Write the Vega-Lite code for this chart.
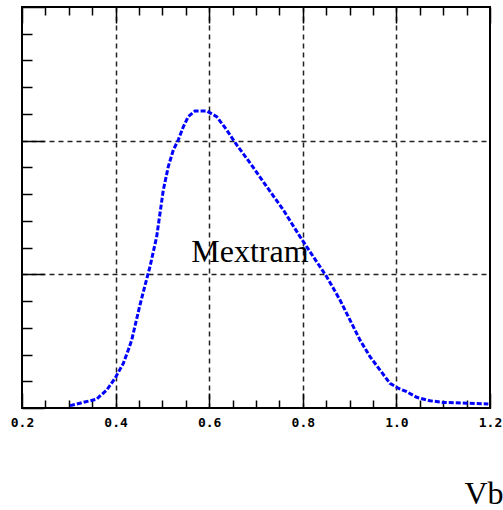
{
  "$schema": "https://vega.github.io/schema/vega-lite/v6.json",
  "width": 468,
  "height": 401,
  "autosize": {"type": "none"},
  "padding": {"left": 22, "top": 7, "right": 13, "bottom": 102},
  "background": "white",
  "config": {"view": {"stroke": "black", "strokeWidth": 2}},
  "datasets": {
    "curve": [
      {"vb": 0.3026, "val": 0.009}, {"vb": 0.3239, "val": 0.018}, {"vb": 0.3453, "val": 0.027},
      {"vb": 0.3596, "val": 0.033}, {"vb": 0.3667, "val": 0.045}, {"vb": 0.381, "val": 0.067},
      {"vb": 0.3987, "val": 0.111}, {"vb": 0.4165, "val": 0.167}, {"vb": 0.4271, "val": 0.217},
      {"vb": 0.4344, "val": 0.254}, {"vb": 0.452, "val": 0.385}, {"vb": 0.4692, "val": 0.501},
      {"vb": 0.4735, "val": 0.529}, {"vb": 0.4878, "val": 0.641}, {"vb": 0.5019, "val": 0.815},
      {"vb": 0.5126, "val": 0.903}, {"vb": 0.5233, "val": 0.965}, {"vb": 0.534, "val": 1.003},
      {"vb": 0.5447, "val": 1.052}, {"vb": 0.5553, "val": 1.09}, {"vb": 0.5697, "val": 1.111},
      {"vb": 0.5947, "val": 1.111}, {"vb": 0.616, "val": 1.09}, {"vb": 0.6374, "val": 1.04},
      {"vb": 0.6588, "val": 0.984}, {"vb": 0.6872, "val": 0.917}, {"vb": 0.7229, "val": 0.828},
      {"vb": 0.7583, "val": 0.741}, {"vb": 0.794, "val": 0.641}, {"vb": 0.8224, "val": 0.566},
      {"vb": 0.8511, "val": 0.491}, {"vb": 0.8795, "val": 0.404}, {"vb": 0.9222, "val": 0.254},
      {"vb": 0.9436, "val": 0.192}, {"vb": 0.965, "val": 0.142}, {"vb": 0.9863, "val": 0.092},
      {"vb": 1.004, "val": 0.074}, {"vb": 1.022, "val": 0.061}, {"vb": 1.0434, "val": 0.04},
      {"vb": 1.0718, "val": 0.027}, {"vb": 1.1002, "val": 0.021}, {"vb": 1.15, "val": 0.018},
      {"vb": 1.1964, "val": 0.015}
    ],
    "labels": [{"x": 0.687, "y": 0.546, "label": "Mextram"}]
  },
  "layer": [
    {
      "data": {"name": "curve"},
      "mark": {"type": "line", "color": "#0000ff", "strokeWidth": 3, "strokeDash": [5, 2], "clip": true},
      "encoding": {
        "x": {
          "field": "vb", "type": "quantitative",
          "scale": {"domain": [0.2, 1.2], "nice": false, "zero": false},
          "axis": {
            "orient": "bottom",
            "values": [0.2, 0.25, 0.3, 0.35, 0.4, 0.45, 0.5, 0.55, 0.6, 0.65, 0.7, 0.75, 0.8, 0.85, 0.9, 0.95, 1.0, 1.05, 1.1, 1.15, 1.2],
            "labelExpr": "round(datum.value*100)%20==0 ? format(datum.value,'.1f') : ''",
            "labelFont": "DejaVu Sans Mono", "labelFontSize": 13, "labelFontWeight": "bold", "labelColor": "black",
            "labelFlush": false, "labelOverlap": false, "labelBaseline": "top", "labelPadding": 23,
            "tickSize": {"condition": {"test": "round(datum.value*100)%20==0", "value": -15}, "value": -8},
            "tickColor": "black", "tickWidth": 1.5,
            "domain": false,
            "grid": true, "gridDash": [5, 4], "gridColor": "#222222", "gridWidth": 1.5,
            "gridOpacity": {"condition": {"test": "round(datum.value*100)%20==0 && datum.value>0.3 && datum.value<1.1", "value": 1}, "value": 0},
            "title": "Vb", "titleFont": "Liberation Serif", "titleFontSize": 32, "titleFontWeight": "normal",
            "titleColor": "black", "titleX": 442, "titleY": 95, "titleAlign": "left", "titleBaseline": "alphabetic"
          }
        },
        "y": {
          "field": "val", "type": "quantitative",
          "scale": {"domain": [0, 1.5], "nice": false},
          "axis": {
            "orient": "left",
            "values": [0, 0.1, 0.2, 0.3, 0.4, 0.5, 0.6, 0.7, 0.8, 0.9, 1.0, 1.1, 1.2, 1.3, 1.4, 1.5],
            "labels": false,
            "tickSize": {"condition": {"test": "round(datum.value*10)%5==0", "value": -22}, "value": -10},
            "tickColor": "black", "tickWidth": 1.5,
            "domain": false,
            "grid": true, "gridDash": [5, 4], "gridColor": "#222222", "gridWidth": 1.5,
            "gridOpacity": {"condition": {"test": "round(datum.value*10)%5==0 && datum.value>0.05 && datum.value<1.45", "value": 1}, "value": 0},
            "title": null
          }
        }
      }
    },
    {
      "data": {"name": "labels"},
      "mark": {"type": "text", "font": "Liberation Serif", "fontSize": 32, "baseline": "alphabetic", "align": "center", "color": "black"},
      "encoding": {
        "x": {
          "field": "x", "type": "quantitative",
          "scale": {"domain": [0.2, 1.2], "nice": false, "zero": false},
          "axis": {
            "orient": "top",
            "values": [0.2, 0.25, 0.3, 0.35, 0.4, 0.45, 0.5, 0.55, 0.6, 0.65, 0.7, 0.75, 0.8, 0.85, 0.9, 0.95, 1.0, 1.05, 1.1, 1.15, 1.2],
            "labels": false,
            "tickSize": {"condition": {"test": "round(datum.value*100)%20==0", "value": -16}, "value": -8},
            "tickColor": "black", "tickWidth": 1.5,
            "domain": false, "grid": false, "title": null
          }
        },
        "y": {
          "field": "y", "type": "quantitative",
          "scale": {"domain": [0, 1.5], "nice": false},
          "axis": {
            "orient": "left",
            "values": [0, 0.1, 0.2, 0.3, 0.4, 0.5, 0.6, 0.7, 0.8, 0.9, 1.0, 1.1, 1.2, 1.3, 1.4, 1.5],
            "labels": false,
            "tickSize": {"condition": {"test": "round(datum.value*10)%5==0", "value": -22}, "value": -10},
            "tickColor": "black", "tickWidth": 1.5,
            "domain": false,
            "grid": true, "gridDash": [5, 4], "gridColor": "#222222", "gridWidth": 1.5,
            "gridOpacity": {"condition": {"test": "round(datum.value*10)%5==0 && datum.value>0.05 && datum.value<1.45", "value": 1}, "value": 0},
            "title": null
          }
        },
        "text": {"field": "label"}
      }
    }
  ],
  "resolve": {"axis": {"x": "independent"}}
}
